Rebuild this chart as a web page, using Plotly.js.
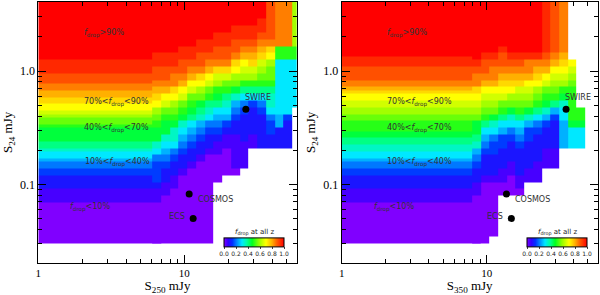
<!DOCTYPE html>
<html>
<head>
<meta charset="utf-8">
<script src="https://cdn.plot.ly/plotly-3.0.1.min.js"></script>
<style>html,body{margin:0;padding:0;background:#fff;}#chart{width:600px;height:295px;}</style>
</head>
<body>
<div id="chart"></div>
<script>
// ---- DATA ----
// f_drop level code: 'a'=0.00 ... 'u'=1.00 in steps of 0.05; '.' = no data
const LEVEL_CODES = 'abcdefghijklmnopqrstu';

// Flat (x-independent) part of each panel: one fine profile, bottom->top,
// log10(S24) bins of 0.03 dex starting at -1.52
const FINE_DEX = 0.03;
const leftFlatProfile  = 'aaaaaaaaaaaa' + 'bbbbccccddeefggh' + 'iijjjjkllmnooppqqrrssstttt' + 'uuuuuuuuuuuuuuuuuu';
const rightFlatProfile = 'aaaaaaaaaaaa' + 'bbbbccccddeefgg' + 'hhiijjkkkllmmnnoopqrrssssttt' + 'uuuuuuuuuuuuuuuuu';
const LEFT_FLAT_COLS = 13;   // number of 0.06-dex columns covered by the flat profile
const RIGHT_FLAT_COLS = 15;

// Structured part: columns of 0.06 dex in log10(S_submm) (continuing after the flat part),
// each string bottom->top over log10(S24) bins of 0.06 dex starting at -1.52
const BIN_DEX = 0.06;
const Y_START_LOG = -1.52;
const leftColumns = [
  'aaaaaabbcdddeghjjklmopqrssttuuuuuuuu',
  'aaaaaaab' + 'bccdefghjjkl' + 'noqrsstt' + 'uuuuuuuu',
  'aaaaaaaa' + 'bbccdeghhjkl' + 'moprrstt' + 'uuuuuuuu',
  'aaaaaaaaaa' + 'bccdefghjk' + 'lnoqrsstt' + 'uuuuuuu',
  'aaaaaaaaaaa' + 'bccdefgij' + 'klnoqrstt' + 'uuuuuuu',
  'aaaaaaaaaaaa' + 'bccdefhi' + 'jlmoprsstt' + 'uuuuuu',
  'aaaaaaaaaaaaa' + 'bccdegh' + 'iklnoqrstt' + 'uuuuuu',
  '.........' + 'aaaa' + 'bbcdefg' + 'ijkmnprsstt' + 'uuuuu',
  '..........' + 'aaaabbcdfg' + 'hiklnprsstt' + 'uuuuu',
  '..........' + 'abbbbbccde' + 'fhjlmoprsstt' + 'uuuu',
  '...........' + 'bbbbccccd' + 'egikmnoqrstt' + 'uuuu',
  '..............' + 'bbcccc' + 'dgikmnpqrstt' + 'uuuu',
  '..............' + 'cccccd' + 'egiklmnpqrst' + 'tuuu',
  '..............' + 'ccddeg' + 'hhikllmoprss' + 'ssss',
  '..............' + 'cccffg' + 'ggggggg' + 'kk' + 'rrrrrrr',
  '..............' + 'ccccdg' + 'ggggggg' + 'kk' + 'rrrrrrr',
  '....................' + 'ggggggg' + 'kk' + 'mmmmmmm'
];
const rightColumns = [
  'aaaaaaa' + 'bbccdefhijj' + 'lmnoprrst' + 'uuuuuuuuu',
  'aaaaaaaaa' + 'bcccdefgik' + 'lmnoqrsst' + 'uuuuuuuu',
  '.' + 'aaaaaaaa' + 'bcccddeghj' + 'lmnoqrrst' + 'uuuuuuuu',
  '.......' + 'aabbcccddfgik' + 'lnopqrsst' + 'uuuuuuu',
  '.......' + 'aaabbcccdeghj' + 'lmopqrst' + 'uuuuuuuu',
  '.......' + 'abbccccdefgik' + 'lmnpqrst' + 'uuuuuuuu',
  '.........' + 'bbccccddfhj' + 'lmnoqrrt' + 'uuuuuuuu',
  '.........' + 'bbbccccdegi' + 'klmopqrt' + 'uuuuuuuu',
  '...........' + 'bbbcccdfh' + 'jklnoqrst' + 'ttttttt',
  '...........' + 'bbbccccdf' + 'iklmnoqrs' + 'sssssss',
  '..............' + 'ffffgg' + 'hjkmnopq' + 'rrrrrrrr',
  '..............' + 'gggjkk' + 'kkklmno' + '.........',
  '..............' + 'gggjkk' + '................',
  '....................................',
  '....................................'
];

const fieldNames = ['SWIRE', 'COSMOS', 'ECS'];
const fieldS24 = [0.46, 0.082, 0.050];
const fieldS250 = [26.4, 10.8, 11.5];
const fieldS350 = [35.3, 13.7, 14.8];

const zoneLabels = [
  '<i>f</i><sub>drop</sub>&gt;90%',
  '70%&lt;<i>f</i><sub>drop</sub>&lt;90%',
  '40%&lt;<i>f</i><sub>drop</sub>&lt;70%',
  '10%&lt;<i>f</i><sub>drop</sub>&lt;40%',
  '<i>f</i><sub>drop</sub>&lt;10%'
];
const colorbarTitle = '<i>f</i><sub>drop</sub> at all z';
const colorbarTicks = [0, 0.2, 0.4, 0.6, 0.8, 1.0];
const xTickVals = [1, 10];
const xTickText = ['1', '10'];
const yTickVals = [0.1, 1];
const yTickText = ['0.1', '1.0'];

// ---- build ----
function lvl(ch) { return ch === '.' ? null : LEVEL_CODES.indexOf(ch) / (LEVEL_CODES.length - 1); }
function decodeCols(cols) {
  const z = [];
  for (let j = 0; j < cols[0].length; j++) {
    const row = [];
    for (let i = 0; i < cols.length; i++) row.push(lvl(cols[i][j]));
    z.push(row);
  }
  return z;
}
function decodeProfile(p) { return p.split('').map(function (ch) { return [lvl(ch)]; }); }
function edges(startLog, step, n) {
  const e = [];
  for (let k = 0; k <= n; k++) e.push(Math.pow(10, startLog + step * k));
  return e;
}
const yCoarse = edges(Y_START_LOG, BIN_DEX, leftColumns[0].length);
const yFine = edges(Y_START_LOG, FINE_DEX, leftFlatProfile.length);
// the flat part is laid one column under the structured part so no seam shows
const xLeftFlat = [1, Math.pow(10, BIN_DEX * (LEFT_FLAT_COLS + 1))];
const xRightFlat = [1, Math.pow(10, BIN_DEX * (RIGHT_FLAT_COLS + 1))];
const xLeftCoarse = edges(BIN_DEX * LEFT_FLAT_COLS, BIN_DEX, leftColumns.length);
const xRightCoarse = edges(BIN_DEX * RIGHT_FLAT_COLS, BIN_DEX, rightColumns.length);

const cscale = [
  [0, '#8000ff'], [0.07, '#3000ff'], [0.14, '#0030ff'], [0.22, '#0090ff'],
  [0.3, '#00e8ff'], [0.38, '#00ffa0'], [0.47, '#00ff20'], [0.58, '#90ff00'],
  [0.7, '#ffff00'], [0.8, '#ffb000'], [0.88, '#ff6000'], [1, '#ff0000']
];
const W = 600, H = 295;
function cbar(cx) {
  return {
    orientation: 'h', x: cx / W, xanchor: 'center', y: 1 - 248 / H, yanchor: 'middle',
    len: 60, lenmode: 'pixels', thickness: 9, outlinewidth: 1, outlinecolor: '#000',
    xpad: 0, ypad: 0, tickvals: colorbarTicks, tickformat: '.1f',
    ticks: 'outside', ticklen: 2, tickfont: {family: 'DejaVu Sans', size: 6, color: '#222'}
  };
}
function hm(x, y, z, xa, ya, cb) {
  const t = {type: 'heatmap', x: x, y: y, z: z, zmin: 0, zmax: 1, colorscale: cscale,
    xaxis: xa, yaxis: ya, hoverinfo: 'skip', showscale: !!cb};
  if (cb) t.colorbar = cb;
  return t;
}
const traces = [
  hm(xLeftFlat, yFine, decodeProfile(leftFlatProfile), 'x', 'y', null),
  hm(xLeftCoarse, yCoarse, decodeCols(leftColumns), 'x', 'y', cbar(254)),
  hm(xRightFlat, yFine, decodeProfile(rightFlatProfile), 'x2', 'y2', null),
  hm(xRightCoarse, yCoarse, decodeCols(rightColumns), 'x2', 'y2', cbar(557)),
  {type: 'scatter', mode: 'markers', x: fieldS250, y: fieldS24, xaxis: 'x', yaxis: 'y',
   marker: {color: '#000', size: 7}, hoverinfo: 'skip', showlegend: false},
  {type: 'scatter', mode: 'markers', x: fieldS350, y: fieldS24, xaxis: 'x2', yaxis: 'y2',
   marker: {color: '#000', size: 7}, hoverinfo: 'skip', showlegend: false}
];

const serif = 'Liberation Serif';
function xax(dom, rng, title, anchor) {
  return {
    type: 'log', domain: dom, range: rng, anchor: anchor,
    tickmode: 'array', tickvals: xTickVals, ticktext: xTickText,
    ticks: 'inside', ticklen: 8, tickwidth: 1, tickcolor: '#000',
    minor: {tickmode: 'array', tickvals: [2,3,4,5,6,7,8,9,20,30,40,50], ticks: 'inside', ticklen: 4, tickcolor: '#000', showgrid: false},
    showline: true, linecolor: '#000', linewidth: 1, mirror: 'allticks',
    showgrid: false, zeroline: false,
    tickfont: {family: serif, size: 11, color: '#000'},
    title: {text: title, font: {family: serif, size: 13, color: '#000'}, standoff: 6},
    automargin: false
  };
}
function yax(dom, rng, anchor) {
  return {
    type: 'log', domain: dom, range: rng, anchor: anchor,
    tickmode: 'array', tickvals: yTickVals, ticktext: yTickText,
    ticks: 'inside', ticklen: 8, tickwidth: 1, tickcolor: '#000',
    minor: {tickmode: 'array', tickvals: [0.03,0.04,0.05,0.06,0.07,0.08,0.09,0.2,0.3,0.4,0.5,0.6,0.7,0.8,0.9,2,3,4], ticks: 'inside', ticklen: 4, tickcolor: '#000', showgrid: false},
    showline: true, linecolor: '#000', linewidth: 1, mirror: 'allticks',
    showgrid: false, zeroline: false,
    tickfont: {family: serif, size: 12, color: '#000'},
    title: {text: 'S<sub>24</sub> mJy', font: {family: serif, size: 13, color: '#000'}, standoff: 4},
    automargin: false
  };
}
const yDom = [1 - 262.7 / H, 1 - 2 / H];
const yRng = [-1.692, 0.609];

const annotations = [];
const zoneY = [34, 102, 128, 162, 207];
const zoneXL = [82, 82, 82, 83, 68];
const zoneXR = [385, 385, 385, 385, 372];
for (let k = 0; k < zoneLabels.length; k++) {
  [zoneXL[k], zoneXR[k]].forEach(function (px) {
    annotations.push({xref: 'paper', yref: 'paper', x: px / W, y: 1 - zoneY[k] / H,
      xanchor: 'left', yanchor: 'middle', showarrow: false, text: zoneLabels[k],
      font: {family: 'DejaVu Sans', size: 8, color: '#333'}});
  });
}
// colour-bar titles
[254, 557].forEach(function (cx) {
  annotations.push({xref: 'paper', yref: 'paper', x: cx / W, y: 1 - 232 / H,
    xanchor: 'center', yanchor: 'middle', showarrow: false, text: colorbarTitle,
    font: {family: 'DejaVu Sans', size: 7, color: '#222'}});
});
// field labels placed next to the field points
const labelOffset = [{dx: 12, dy: 12, anchor: 'center'}, {dx: 7, dy: -5, anchor: 'left'}, {dx: -6, dy: 2, anchor: 'right'}];
for (let k = 0; k < fieldNames.length; k++) {
  [['x', 'y', fieldS250], ['x2', 'y2', fieldS350]].forEach(function (ax) {
    annotations.push({xref: ax[0], yref: ax[1], x: Math.log10(ax[2][k]), y: Math.log10(fieldS24[k]),
      xshift: labelOffset[k].dx, yshift: labelOffset[k].dy, xanchor: labelOffset[k].anchor, yanchor: 'middle',
      showarrow: false, text: fieldNames[k], font: {family: 'DejaVu Sans', size: 8, color: '#333'}});
  });
}

const layout = {
  width: W, height: H, margin: {l: 0, r: 0, t: 0, b: 0},
  paper_bgcolor: '#fff', plot_bgcolor: '#fff', showlegend: false,
  xaxis: xax([38.3 / W, 296.7 / W], [0, 1.77], 'S<sub>250</sub> mJy', 'y'),
  yaxis: yax(yDom, yRng, 'x'),
  xaxis2: xax([341.7 / W, 597.7 / W], [0, 1.766], 'S<sub>350</sub> mJy', 'y2'),
  yaxis2: yax(yDom, yRng, 'x2'),
  annotations: annotations
};
Plotly.newPlot('chart', traces, layout, {staticPlot: true, displayModeBar: false});
</script>
</body>
</html>
